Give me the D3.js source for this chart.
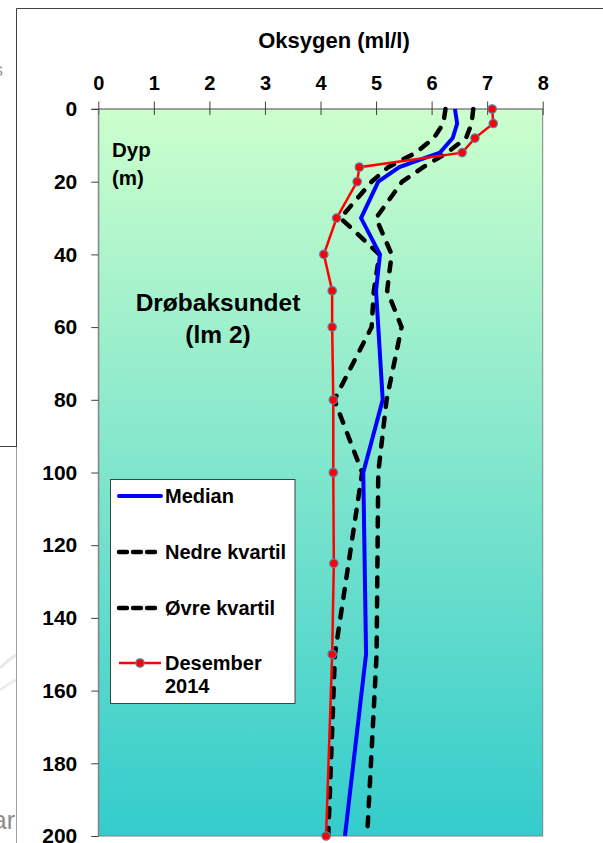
<!DOCTYPE html>
<html>
<head>
<meta charset="utf-8">
<script src="https://cdn.jsdelivr.net/npm/d3@7/dist/d3.min.js"></script>
<style>
  html, body { margin: 0; padding: 0; background: #fff; }
  svg { display: block; font-family: "Liberation Sans", Arial, sans-serif; }
</style>
</head>
<body>
<div id="chart"></div>
<script>
// depths (m) for the long-term statistics
var depths = [0, 4, 8, 12, 16, 20, 30, 40, 50, 60, 80, 100, 150, 200];
var median = [6.42, 6.46, 6.38, 6.15, 5.42, 5.04, 4.73, 5.07, 5.0, 5.04, 5.12, 4.77, 4.82, 4.44];
var nedreKvartil = [6.25, 6.21, 6.04, 5.72, 5.22, 4.92, 4.36, 5.06, 4.96, 4.92, 4.25, 4.75, 4.26, 4.14];
var ovreKvartil = [6.75, 6.72, 6.62, 6.28, 5.85, 5.47, 5.0, 5.28, 5.2, 5.46, 5.19, 5.04, 5.01, 4.84];

// December 2014 profile
var desDepths = [0, 4, 8, 12, 16, 20, 30, 40, 50, 60, 80, 100, 125, 150, 200];
var des2014 = [7.09, 7.11, 6.78, 6.55, 4.70, 4.66, 4.29, 4.06, 4.21, 4.21, 4.23, 4.23, 4.24, 4.21, 4.10];

var xTicks = [0, 1, 2, 3, 4, 5, 6, 7, 8];
var yTicks = [0, 20, 40, 60, 80, 100, 120, 140, 160, 180, 200];

var W = 603, H = 843;
var plotLeft = 98.3, plotRight = 542.7, plotTop = 109, plotBottom = 836;

var svg = d3.select("#chart").append("svg")
  .attr("width", W).attr("height", H);

// slide frame bits around the chart
svg.append("text").attr("x", 15).attr("y", 829)
  .attr("text-anchor", "end").attr("fill", "#8c8c8c")
  .attr("font-size", 25).text("ar")
svg.append("path").attr("d", "M0,668 Q8,660 16,655").attr("fill", "none")
  .attr("stroke", "#e3e8f0").attr("stroke-width", 3)
svg.append("path").attr("d", "M0,690 Q8,684 16,680").attr("fill", "none")
  .attr("stroke", "#e8edf3").attr("stroke-width", 3)
svg.append("text").attr("x", -6).attr("y", 76).attr("fill", "#999")
  .attr("font-size", 18).text("s")
svg.append("line").attr("x1", 16.5).attr("x2", W).attr("y1", 8.5).attr("y2", 8.5)
  .attr("stroke", "#404040").attr("stroke-width", 1)
svg.append("line").attr("x1", 16.5).attr("x2", 16.5).attr("y1", 8.5).attr("y2", 447)
  .attr("stroke", "#404040").attr("stroke-width", 1)
svg.append("line").attr("x1", 0).attr("x2", 16.5).attr("y1", 446.5).attr("y2", 446.5)
  .attr("stroke", "#404040").attr("stroke-width", 1)
svg.append("line").attr("x1", 16.5).attr("x2", 16.5).attr("y1", 447).attr("y2", H)
  .attr("stroke", "#a0a0a0").attr("stroke-width", 1)

var x = d3.scaleLinear().domain([0, 8]).range([plotLeft, plotRight]);
var y = d3.scaleLinear().domain([0, 200]).range([plotTop, plotBottom]);

// plot area gradient
var grad = svg.append("defs").append("linearGradient")
  .attr("id", "bg").attr("x1", 0).attr("x2", 0).attr("y1", 0).attr("y2", 1);
grad.append("stop").attr("offset", "0%").attr("stop-color", "#ccffcc");
grad.append("stop").attr("offset", "100%").attr("stop-color", "#33cccc");

svg.append("rect")
  .attr("x", x(0)).attr("y", y(0))
  .attr("width", x(8) - x(0)).attr("height", y(200) - y(0))
  .attr("fill", "url(#bg)")
  .attr("stroke", "#808080").attr("stroke-width", 1);

// axes
var xAxis = svg.append("g")
  .attr("transform", "translate(0," + y(0) + ")")
  .call(d3.axisTop(x).tickValues(xTicks).tickSize(7.5).tickPadding(12).tickSizeOuter(0));
xAxis.select(".domain").attr("stroke", "#808080").attr("d", "M" + (x(0) - 7) + ",0H" + x(8));
xAxis.selectAll(".tick line").attr("y1", 6).attr("stroke", "#404040");
xAxis.selectAll(".tick text")
  .attr("font-size", 20).attr("font-weight", "bold").attr("fill", "#000")
  .attr("font-family", "Liberation Sans, Arial, sans-serif");

var yAxis = svg.append("g")
  .attr("transform", "translate(" + x(0) + ",0)")
  .call(d3.axisLeft(y).tickValues(yTicks).tickSize(7).tickPadding(14).tickSizeOuter(0));
yAxis.select(".domain").attr("stroke", "#808080");
yAxis.selectAll(".tick line").attr("stroke", "#404040");
yAxis.selectAll(".tick text")
  .attr("font-size", 21).attr("font-weight", "bold").attr("fill", "#000")
  .attr("font-family", "Liberation Sans, Arial, sans-serif");

// titles
svg.append("text").attr("x", 334).attr("y", 48)
  .attr("text-anchor", "middle").attr("font-size", 22).attr("font-weight", "bold")
  .text("Oksygen (ml/l)");
svg.append("text").attr("x", 112).attr("y", 157)
  .attr("font-size", 20.5).attr("font-weight", "bold").text("Dyp");
svg.append("text").attr("x", 112).attr("y", 185)
  .attr("font-size", 20.5).attr("font-weight", "bold").text("(m)");
svg.append("text").attr("x", 218).attr("y", 311)
  .attr("text-anchor", "middle").attr("font-size", 24.5).attr("font-weight", "bold")
  .text("Drøbaksundet");
svg.append("text").attr("x", 218).attr("y", 343)
  .attr("text-anchor", "middle").attr("font-size", 24.5).attr("font-weight", "bold")
  .text("(lm 2)");

// lines
var line = d3.line()
  .x(function (d) { return x(d[1]); })
  .y(function (d) { return y(d[0]); });

function pairs(ds, vs) {
  return ds.map(function (d, i) { return [d, vs[i]]; });
}

var plot = svg.append("g");

plot.append("path").datum(pairs(depths, nedreKvartil))
  .attr("d", line).attr("fill", "none")
  .attr("stroke", "#000").attr("stroke-width", 4.5)
  .attr("stroke-dasharray", "9,11").attr("stroke-linecap", "round");

plot.append("path").datum(pairs(depths, ovreKvartil))
  .attr("d", line).attr("fill", "none")
  .attr("stroke", "#000").attr("stroke-width", 4.5)
  .attr("stroke-dasharray", "9,11").attr("stroke-linecap", "round");

plot.append("path").datum(pairs(depths, median))
  .attr("d", line).attr("fill", "none")
  .attr("stroke", "#0000ff").attr("stroke-width", 4);

var desData = pairs(desDepths, des2014);
plot.append("path").datum(desData)
  .attr("d", line).attr("fill", "none")
  .attr("stroke", "#ff0000").attr("stroke-width", 2.5);

plot.selectAll("circle.des").data(desData).enter()
  .append("circle").attr("class", "des")
  .attr("cx", function (d) { return x(d[1]); })
  .attr("cy", function (d) { return y(d[0]); })
  .attr("r", 4.2)
  .attr("fill", "#ff0000").attr("stroke", "#5b7fae").attr("stroke-width", 1.2);

// legend
var lg = svg.append("g");
lg.append("rect").attr("x", 110.5).attr("y", 479.5).attr("width", 184.5).attr("height", 224)
  .attr("fill", "#fff").attr("stroke", "#404040").attr("stroke-width", 1);

var legendItems = [
  { label: ["Median"], y: 496, kind: "median" },
  { label: ["Nedre kvartil"], y: 552, kind: "dash" },
  { label: ["Øvre kvartil"], y: 608, kind: "dash" },
  { label: ["Desember", "2014"], y: 663, kind: "des" }
];

legendItems.forEach(function (it) {
  var l = lg.append("line").attr("x1", 119).attr("x2", 161)
    .attr("y1", it.y).attr("y2", it.y).attr("fill", "none");
  if (it.kind == "median") {
    l.attr("stroke", "#0000ff").attr("stroke-width", 4).attr("stroke-linecap", "round");
  } else if (it.kind == "dash") {
    l.attr("stroke", "#000").attr("stroke-width", 4.5)
      .attr("stroke-dasharray", "8,6").attr("stroke-linecap", "round");
  } else {
    l.attr("stroke", "#ff0000").attr("stroke-width", 2.5);
    lg.append("circle").attr("cx", 140).attr("cy", it.y).attr("r", 4.2)
      .attr("fill", "#ff0000").attr("stroke", "#5b7fae").attr("stroke-width", 1.2);
  }
  it.label.forEach(function (t, j) {
    lg.append("text").attr("x", 165).attr("y", it.y + 7 + j * 23)
      .attr("font-size", 20).attr("font-weight", "bold").text(t);
  });
});
</script>
</body>
</html>
